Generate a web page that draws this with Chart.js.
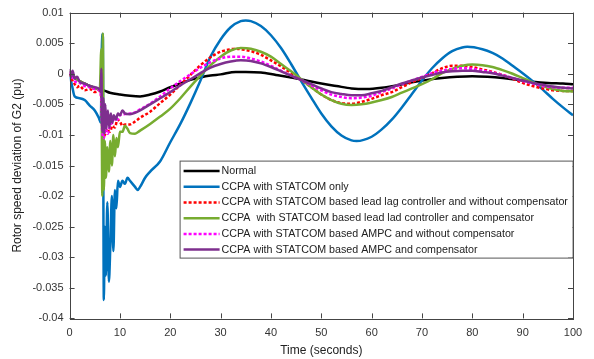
<!DOCTYPE html>
<html>
<head>
<meta charset="utf-8">
<script src="https://cdn.jsdelivr.net/npm/chart.js@4.4.0/dist/chart.umd.min.js"></script>
<style>
  html, body { margin: 0; padding: 0; background: #fff; }
  #wrap { width: 594px; height: 359px; }
</style>
</head>
<body>
<div id="wrap"><canvas id="chart"></canvas></div>
<script>
// series, [time (s), deviation (pu)]
const normal = [[0,0],[1,-0.0006],[2,-0.0012],[3,-0.0016],[4,-0.002],[5,-0.0023],[6,-0.0026],[7,-0.0028],[8,-0.0031],[10,-0.0034],[12,-0.0036],[14,-0.0037],[16,-0.0034],[18,-0.0029],[20,-0.0022],[22,-0.0016],[24,-0.001],[26,-0.0006],[28,-0.0003],[30,-0.0001],[33,0.0003],[35,0.0003],[38,0.0002],[41,-0.0002],[44,-0.0006],[47,-0.0011],[50,-0.0016],[53,-0.002],[56,-0.0024],[59,-0.0025],[62,-0.0023],[65,-0.0019],[68,-0.0014],[71,-0.001],[74,-0.0007],[77,-0.0005],[80,-0.0004],[83,-0.0005],[86,-0.0007],[89,-0.001],[92,-0.0013],[95,-0.0015],[98,-0.0016],[100,-0.0017]];

const statcomOnly = [[0,0],[0.5,-0.002],[1,-0.0037],[2,-0.004],[3,-0.0043],[4,-0.0052],[5,-0.006],[5.8,-0.0072],[6.2,-0.008],[6.4,0.004],[6.6,0.0065],[6.8,-0.037],[7,-0.025],[7.2,-0.033],[7.5,-0.021],[7.8,-0.034],[8.1,-0.028],[8.4,-0.02],[8.7,-0.029],[9,-0.019],[9.3,-0.022],[9.6,-0.0175],[10,-0.0185],[10.5,-0.0175],[11,-0.018],[11.5,-0.017],[12,-0.0175],[13,-0.0185],[13.5,-0.019],[14,-0.0185],[15,-0.017],[16,-0.016],[18,-0.0143],[20,-0.0112],[22,-0.0082],[24,-0.0048],[26,-0.0011],[28,0.0028],[30,0.0056],[32,0.0076],[34,0.0086],[35,0.0087],[36,0.0086],[38,0.0078],[40,0.0063],[42,0.0042],[44,0.0016],[46,-0.0012],[48,-0.0039],[50,-0.0065],[52,-0.0086],[54,-0.0101],[56,-0.0109],[57,-0.011],[60,-0.0103],[62,-0.0091],[64,-0.0075],[66,-0.0055],[68,-0.0033],[70,-0.0011],[72,0.0009],[74,0.0025],[76,0.0037],[78,0.0043],[79,0.0044],[82,0.004],[84,0.0034],[86,0.0025],[88,0.0013],[90,0.0001],[92,-0.0012],[94,-0.0026],[96,-0.0041],[98,-0.0055],[100,-0.0068]];

const leadLagNoComp = [[0,0],[0.5,-0.001],[1,-0.0017],[1.5,-0.0022],[2,-0.002],[3,-0.0027],[4,-0.0025],[5,-0.003],[6,-0.0028],[6.3,-0.004],[6.6,-0.0095],[7,-0.01],[7.5,-0.009],[8,-0.0095],[8.5,-0.0085],[9,-0.0088],[9.5,-0.0075],[10,-0.0078],[10.5,-0.0085],[11,-0.0083],[12,-0.0083],[13,-0.0078],[14,-0.0072],[16,-0.0062],[18,-0.0048],[20,-0.0034],[22,-0.0018],[24,-0.0002],[26,0.0014],[28,0.0027],[30,0.0036],[32,0.004],[33,0.0041],[34,0.004],[36,0.0037],[38,0.0031],[40,0.0022],[42,0.0012],[44,0.0001],[46,-0.001],[48,-0.0022],[50,-0.0034],[52,-0.0043],[54,-0.0048],[56,-0.0049],[58,-0.0046],[60,-0.0041],[62,-0.0035],[64,-0.003],[66,-0.0022],[68,-0.0014],[70,-0.0007],[72,0.0001],[74,0.0009],[76,0.0013],[78,0.0013],[80,0.0011],[82,0.0007],[84,0.0003],[86,-0.0002],[88,-0.0008],[90,-0.0015],[92,-0.002],[94,-0.0024],[96,-0.0027],[98,-0.0028],[100,-0.0028]];

const leadLagComp = [[0,0.0005],[1,-0.0005],[2,-0.0012],[3,-0.0016],[4,-0.002],[5,-0.0023],[6,-0.0026],[6.3,0.004],[6.5,-0.02],[6.6,0.0066],[6.8,-0.019],[7,-0.011],[7.2,-0.017],[7.5,-0.012],[7.8,-0.016],[8.1,-0.011],[8.4,-0.015],[8.7,-0.01],[9,-0.0135],[9.3,-0.0105],[9.6,-0.012],[10,-0.0095],[10.5,-0.0095],[11,-0.0085],[11.5,-0.009],[12,-0.0097],[13,-0.0098],[14,-0.0093],[16,-0.0082],[18,-0.007],[20,-0.0057],[22,-0.004],[24,-0.0021],[26,-0.0003],[28,0.0014],[30,0.0028],[32,0.0038],[34,0.0042],[36,0.0041],[38,0.0036],[40,0.0028],[42,0.0016],[44,0.0004],[46,-0.0009],[48,-0.0022],[50,-0.0034],[52,-0.0043],[54,-0.0049],[56,-0.0051],[58,-0.005],[60,-0.0047],[62,-0.0043],[64,-0.0038],[66,-0.0031],[68,-0.0024],[70,-0.0017],[72,-0.0009],[74,0.0001],[76,0.0008],[78,0.0013],[80,0.0015],[82,0.0014],[84,0.0011],[86,0.0006],[88,0],[90,-0.0007],[92,-0.0014],[94,-0.002],[96,-0.0025],[98,-0.0028],[100,-0.0029]];

const ampcNoComp = [[0,0.0003],[0.5,-0.0005],[1,-0.0012],[2,-0.0015],[3,-0.002],[4,-0.0022],[5,-0.0025],[6,-0.0028],[6.3,-0.0045],[6.5,-0.0095],[6.8,-0.0105],[7.2,-0.009],[7.6,-0.0098],[8,-0.0085],[8.5,-0.008],[9,-0.0072],[9.5,-0.0075],[10,-0.0068],[11,-0.0066],[12,-0.0065],[13,-0.0063],[14,-0.0058],[16,-0.0049],[18,-0.0037],[20,-0.0024],[22,-0.0012],[24,-0.0001],[26,0.001],[28,0.0019],[30,0.0025],[32,0.0028],[34,0.0028],[36,0.0025],[38,0.002],[40,0.0013],[42,0.0005],[44,-0.0003],[46,-0.001],[48,-0.0019],[50,-0.0027],[52,-0.0034],[54,-0.0038],[56,-0.004],[58,-0.0039],[60,-0.0036],[62,-0.003],[64,-0.0024],[66,-0.0017],[68,-0.0011],[70,-0.0005],[72,0.0001],[74,0.0005],[76,0.0008],[78,0.0009],[80,0.0008],[82,0.0005],[84,0.0002],[86,-0.0002],[88,-0.0007],[90,-0.0012],[92,-0.0016],[94,-0.002],[96,-0.0022],[98,-0.0023],[100,-0.0023]];

const ampcComp = [[0,0.0008],[0.3,-0.0005],[0.6,0.0005],[1,-0.0008],[1.5,-0.0005],[2,-0.0013],[3,-0.0016],[4,-0.002],[5,-0.0022],[6,-0.0026],[6.2,-0.003],[6.3,0.0008],[6.5,-0.0095],[6.7,-0.004],[6.9,-0.0098],[7.1,-0.005],[7.3,-0.009],[7.6,-0.006],[7.9,-0.0088],[8.2,-0.0065],[8.5,-0.008],[8.8,-0.0068],[9.2,-0.0075],[9.6,-0.0065],[10,-0.0068],[10.5,-0.006],[11,-0.0065],[12,-0.0066],[13,-0.0064],[14,-0.006],[16,-0.005],[18,-0.004],[20,-0.003],[22,-0.0019],[24,-0.0009],[26,0.0001],[28,0.001],[30,0.0016],[32,0.002],[34,0.0022],[36,0.0021],[38,0.0017],[40,0.0011],[42,0.0004],[44,-0.0003],[46,-0.001],[48,-0.0017],[50,-0.0024],[52,-0.003],[54,-0.0033],[56,-0.0035],[58,-0.0035],[60,-0.0032],[62,-0.0028],[64,-0.0022],[66,-0.0016],[68,-0.0011],[70,-0.0006],[72,-0.0002],[74,0.0002],[76,0.0004],[78,0.0005],[80,0.0005],[82,0.0003],[84,0.0001],[86,-0.0003],[88,-0.0007],[90,-0.0011],[92,-0.0015],[94,-0.0018],[96,-0.0021],[98,-0.0023],[100,-0.0024]];

const seriesLabels = [
  "Normal",
  "CCPA with STATCOM only",
  "CCPA with STATCOM based lead lag controller and without compensator",
  "CCPA  with STATCOM based lead lad controller and compensator",
  "CCPA with STATCOM based AMPC and without compensator",
  "CCPA with STATCOM based AMPC and compensator"
];
const seriesData = [normal, statcomOnly, leadLagNoComp, leadLagComp, ampcNoComp, ampcComp];
const seriesColors = ["#000000", "#0072BD", "#FF0000", "#77AC30", "#FF00FF", "#7E2F8E"];
const seriesDashed = [false, false, true, false, true, false];

const FONT = "'Liberation Sans', Arial, sans-serif";

// MATLAB style box with inward ticks on all four sides
const boxPlugin = {
  id: "box",
  afterDatasetsDraw(chart) {
    const { ctx, chartArea: a, scales } = chart;
    ctx.save();
    ctx.strokeStyle = "#444";
    ctx.lineWidth = 1;
    ctx.beginPath();
    scales.x.ticks.forEach(t => {
      const px = Math.round(scales.x.getPixelForValue(t.value)) + 0.5;
      ctx.moveTo(px, a.bottom); ctx.lineTo(px, a.bottom - 5);
      ctx.moveTo(px, a.top); ctx.lineTo(px, a.top + 5);
    });
    scales.y.ticks.forEach(t => {
      const py = Math.round(scales.y.getPixelForValue(t.value)) + 0.5;
      ctx.moveTo(a.left, py); ctx.lineTo(a.left + 5, py);
      ctx.moveTo(a.right, py); ctx.lineTo(a.right - 5, py);
    });
    ctx.stroke();
    ctx.strokeRect(Math.round(a.left) + 0.5, Math.round(a.top) + 0.5,
      Math.round(a.right - a.left), Math.round(a.bottom - a.top));
    ctx.restore();
  }
};

// legend box inside the plot, like the figure
const legendPlugin = {
  id: "innerLegend",
  afterDraw(chart) {
    const { ctx, chartArea: a } = chart;
    const x0 = a.left + 110, y0 = a.top + 148, w = 393, h = 97;
    ctx.save();
    ctx.fillStyle = "#fff";
    ctx.fillRect(x0, y0, w, h);
    ctx.strokeStyle = "#555";
    ctx.lineWidth = 1;
    ctx.strokeRect(x0 + 0.5, y0 + 0.5, w, h);
    ctx.font = "10.7px " + FONT;
    ctx.textBaseline = "middle";
    chart.data.datasets.forEach((ds, i) => {
      const y = y0 + 10.5 + i * 15.7;
      ctx.strokeStyle = ds.borderColor;
      ctx.lineWidth = 2.5;
      ctx.setLineDash(ds.borderDash || []);
      ctx.beginPath();
      ctx.moveTo(x0 + 4, y); ctx.lineTo(x0 + 40, y);
      ctx.stroke();
      ctx.setLineDash([]);
      ctx.fillStyle = "#222";
      ctx.fillText(ds.label, x0 + 42, y);
    });
    ctx.restore();
  }
};

const datasets = seriesData.map((pts, i) => ({
  label: seriesLabels[i],
  data: pts.map(p => ({ x: p[0], y: p[1] })),
  borderColor: seriesColors[i],
  borderWidth: 2.5,
  borderDash: seriesDashed[i] ? [3, 2] : undefined,
  pointRadius: 0,
  cubicInterpolationMode: "monotone",
  fill: false,
  order: seriesData.length - i
}));

const ctx = document.getElementById("chart").getContext("2d");
const chart = new Chart(ctx, {
  type: "line",
  data: { datasets },
  options: {
    responsive: true,
    maintainAspectRatio: false,
    animation: false,
    devicePixelRatio: 1,
    layout: { padding: { left: 10, right: 21, top: -2, bottom: 1 } },
    plugins: { legend: { display: false }, tooltip: { enabled: false } },
    scales: {
      x: {
        type: "linear",
        min: 0, max: 100,
        grid: { display: false, drawTicks: false },
        border: { display: false },
        ticks: { stepSize: 10, color: "#333", font: { family: FONT, size: 11 }, padding: 8, maxRotation: 0 },
        title: { display: true, text: "Time (seconds)", color: "#222", font: { family: FONT, size: 12 }, padding: { top: -4, bottom: 0 } }
      },
      y: {
        min: -0.04, max: 0.01,
        grid: { display: false, drawTicks: false },
        border: { display: false },
        ticks: {
          stepSize: 0.005, autoSkip: false, color: "#333", font: { family: FONT, size: 11 }, padding: 6,
          callback: v => String(+v.toFixed(3))
        },
        title: { display: true, text: "Rotor speed deviation of G2 (pu)", color: "#222", font: { family: FONT, size: 12 }, padding: { top: 0, bottom: 2 } }
      }
    }
  },
  plugins: [boxPlugin, legendPlugin]
});
</script>
</body>
</html>
